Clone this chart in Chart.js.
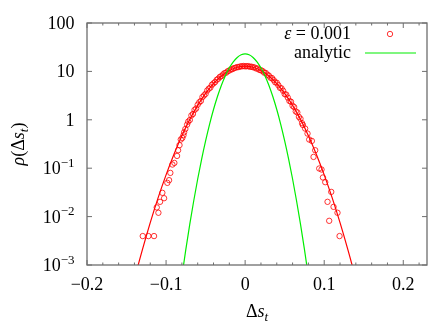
<!DOCTYPE html>
<html><head><meta charset="utf-8">
<script src="https://cdn.jsdelivr.net/npm/chart.js@4.4.1/dist/chart.umd.min.js"></script>
<style>html,body{margin:0;padding:0;background:#fff}</style>
</head><body>
<canvas id="c" width="436" height="326"></canvas>
<script>
// simulated histogram (circles), eps = 0.001
const dataX = [-0.1295,-0.1224,-0.1152,-0.1118,-0.1097,-0.1076,-0.1047,-0.1025,-0.0984,-0.0962,-0.0946,-0.0920,-0.0895,-0.0861,-0.0848,-0.0830,-0.0814,-0.0794,-0.0780,-0.0772,-0.0756,-0.0734,
 -0.072,-0.070,-0.068,-0.066,-0.064,-0.062,-0.060,-0.058,-0.056,-0.054,-0.052,-0.050,-0.048,-0.046,-0.044,-0.042,-0.040,-0.038,-0.036,-0.034,-0.032,-0.030,-0.028,-0.026,-0.024,-0.022,-0.020,-0.018,-0.016,-0.014,-0.012,-0.010,-0.008,-0.006,-0.004,-0.002,
 0.000,0.002,0.004,0.006,0.008,0.010,0.012,0.014,0.016,0.018,0.020,0.022,0.024,0.026,0.028,0.030,0.032,0.034,0.036,0.038,0.040,0.042,0.044,0.046,0.048,0.050,0.052,0.054,0.056,0.058,0.060,0.062,0.064,0.066,0.068,0.070,0.072,
 0.0730,0.0759,0.0789,0.0810,0.0844,0.0865,0.0886,0.0937,0.0966,0.0984,0.1013,0.1042,0.1063,0.1089,0.1118,0.1168,0.1194];
const dataY = [0.00396,0.00396,0.00396,0.0155,0.0120,0.0202,0.0310,0.0240,0.0498,0.0566,0.0800,0.119,0.1285,0.1795,0.235,0.30,0.391,0.422,0.48,0.552,0.646,0.796,
 0.915,0.99,1.23,1.32,1.60,1.71,2.05,2.30,2.45,2.95,3.19,3.44,4.02,4.39,4.63,5.30,5.67,6.02,6.69,7.06,7.70,7.97,8.64,9.22,9.42,10.09,10.43,10.96,11.13,11.71,11.91,12.30,12.29,12.72,12.72,12.93,
 12.70,12.80,12.85,12.46,12.53,12.18,12.03,11.47,11.46,10.74,10.53,10.19,9.42,9.31,8.55,8.21,7.40,7.27,6.63,5.96,5.83,5.20,4.58,4.47,3.98,3.40,3.32,2.87,2.45,2.36,1.95,1.83,1.49,1.42,1.15,1.05,0.85,
 0.781,0.659,0.519,0.391,0.366,0.171,0.235,0.0986,0.094,0.0643,0.0514,0.0202,0.00818,0.0324,0.0159,0.0120,0.00396];
// fitted curve (red line)
const fitX = [-0.15,-0.14,-0.13,-0.12,-0.11,-0.10,-0.09,-0.08,-0.07,-0.06,-0.05,-0.04,-0.03,-0.02,-0.01,0,0.01,0.02,0.03,0.04,0.05,0.06,0.07,0.08,0.09,0.10,0.11,0.12,0.13,0.14,0.15];
const fitY = [0.000114,0.00051,0.00205,0.00749,0.0246,0.0729,0.195,0.470,1.02,1.99,3.51,5.61,8.05,10.43,12.18,12.83,12.18,10.43,8.05,5.61,3.51,1.99,1.02,0.470,0.195,0.0729,0.0246,0.00749,0.00205,0.00051,0.000114];
// analytic curve (green line)
const anaX = [-0.085,-0.080,-0.075,-0.070,-0.065,-0.060,-0.055,-0.050,-0.045,-0.040,-0.035,-0.030,-0.025,-0.020,-0.015,-0.010,-0.005,0,0.005,0.010,0.015,0.020,0.025,0.030,0.035,0.040,0.045,0.050,0.055,0.060,0.065,0.070,0.075,0.080,0.085];
const anaY = [0.00015,0.00058,0.0021,0.00696,0.02125,0.0598,0.1546,0.368,0.808,1.63,3.03,5.18,8.16,11.86,15.81,19.44,22.01,22.94,22.01,19.44,15.81,11.86,8.16,5.18,3.03,1.63,0.808,0.368,0.1546,0.0598,0.02125,0.00696,0.0021,0.00058,0.00015];

const xTickValues = [-0.2,-0.1,0,0.1,0.2];
const xTickLabels = ['−0.2','−0.1','0','0.1','0.2'];
const yTickValues = [0.001,0.01,0.1,1,10,100];
const yTickBase = ['10','10','10','1','10','100'];
const yTickExp = ['−3','−2','−1','','',''];
const legendLabels = ['ε = 0.001','analytic'];

const FF = '"Liberation Serif", "DejaVu Serif", serif';
const R = '18px ' + FF, I = 'italic 18px ' + FF, S = '13px ' + FF, SI = 'italic 13px ' + FF;

function drawRuns(ctx, runs, x, y, align){
  let w = 0;
  runs.forEach(r => { ctx.font = r.f; r.w = ctx.measureText(r.t).width; w += r.w; });
  let cx = align === 'right' ? x - w : (align === 'center' ? x - w/2 : x);
  ctx.textAlign = 'left'; ctx.textBaseline = 'alphabetic';
  runs.forEach(r => { ctx.font = r.f; ctx.fillText(r.t, cx, y + (r.dy || 0)); cx += r.w; });
}

const deco = {
  id: 'deco',
  afterDraw(chart){
    const ctx = chart.ctx, a = chart.chartArea, xs = chart.scales.x, ys = chart.scales.y;
    ctx.save();
    ctx.strokeStyle = '#6e6e6e';
    ctx.lineWidth = 1;
    ctx.beginPath();
    for (let i = -10; i <= 11; i++){
      const px = xs.getPixelForValue(i * 0.02);
      const len = (i % 5 === 0) ? 5 : 2.5;
      ctx.moveTo(px, a.bottom); ctx.lineTo(px, a.bottom - len);
      ctx.moveTo(px, a.top); ctx.lineTo(px, a.top + len);
    }
    yTickValues.forEach(v => {
      const py = ys.getPixelForValue(v);
      ctx.moveTo(a.left, py); ctx.lineTo(a.left + 5, py);
      ctx.moveTo(a.right, py); ctx.lineTo(a.right - 5, py);
    });
    ctx.stroke();
    ctx.lineWidth = 1.3;
    ctx.strokeRect(a.left, a.top, a.right - a.left, a.bottom - a.top);

    ctx.fillStyle = '#000';
    xTickValues.forEach((v, i) => {
      drawRuns(ctx, [{t: xTickLabels[i], f: R}], xs.getPixelForValue(v), a.bottom + 24.5, 'center');
    });
    yTickValues.forEach((v, i) => {
      const py = ys.getPixelForValue(v);
      const runs = [{t: yTickBase[i], f: R}];
      if (yTickExp[i]) runs.push({t: yTickExp[i], f: S, dy: -7.5});
      drawRuns(ctx, runs, a.left - 12.5, py + 6, 'right');
    });
    drawRuns(ctx, [{t:'Δ', f:R},{t:'s', f:I},{t:'t', f:SI, dy:4}], (a.left + a.right)/2, 316.5, 'center');
    ctx.save();
    ctx.translate(24, (a.top + a.bottom)/2);
    ctx.rotate(-Math.PI/2);
    drawRuns(ctx, [{t:'ρ', f:I},{t:'(', f:R},{t:'Δ', f:R},{t:'s', f:I},{t:'t', f:SI, dy:4},{t:')', f:R}], 0, 0, 'center');
    ctx.restore();

    const dsPts = chart.data.datasets.find(d => d.label === legendLabels[0]);
    const dsAna = chart.data.datasets.find(d => d.label === legendLabels[1]);
    drawRuns(ctx, [{t:'ε', f:I},{t:' = 0.001', f:R}], 351, 38.5, 'right');
    drawRuns(ctx, [{t:legendLabels[1], f:R}], 351, 57.5, 'right');
    ctx.strokeStyle = dsPts.borderColor; ctx.lineWidth = dsPts.borderWidth;
    ctx.beginPath(); ctx.arc(390, 34, dsPts.pointRadius, 0, Math.PI*2); ctx.stroke();
    ctx.strokeStyle = dsAna.borderColor; ctx.lineWidth = dsAna.borderWidth;
    ctx.beginPath(); ctx.moveTo(365, 53); ctx.lineTo(416, 53); ctx.stroke();
    ctx.restore();
  }
};

const toPts = (xa, ya) => xa.map((x, i) => ({x: x, y: ya[i]}));

new Chart(document.getElementById('c'), {
  type: 'scatter',
  data: {
    datasets: [
      {label: 'analytic', data: toPts(anaX, anaY), showLine: true, borderColor: '#00ee00', borderWidth: 1.2,
       pointRadius: 0, cubicInterpolationMode: 'monotone', fill: false},
      {label: 'fit', data: toPts(fitX, fitY), showLine: true, borderColor: '#ff0000', borderWidth: 1.2,
       pointRadius: 0, cubicInterpolationMode: 'monotone', fill: false},
      {label: 'ε = 0.001', data: toPts(dataX, dataY), showLine: false, borderColor: '#ff0000', borderWidth: 0.8,
       backgroundColor: 'rgba(0,0,0,0)', pointRadius: 2.7, pointStyle: 'circle'}
    ]
  },
  options: {
    responsive: false, animation: false, devicePixelRatio: 1,
    layout: {padding: {top: 23, right: 9, left: 0, bottom: 0}},
    plugins: {legend: {display: false}, tooltip: {enabled: false}},
    scales: {
      x: {type: 'linear', min: -0.2, max: 0.23, ticks: {display: false}, grid: {display: false}, border: {display: false},
          afterFit: s => { s.height = 61; }},
      y: {type: 'logarithmic', min: 0.001, max: 100, ticks: {display: false}, grid: {display: false}, border: {display: false},
          afterFit: s => { s.width = 87; }}
    }
  },
  plugins: [deco]
});
</script>
</body></html>
